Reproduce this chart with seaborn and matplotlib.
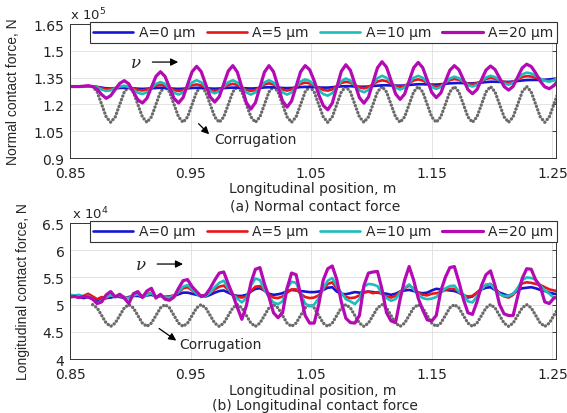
import numpy as np
import pandas as pd
import seaborn as sns
from matplotlib import pyplot as plt
from matplotlib.lines import Line2D

sns.set_theme(style="white")
plt.rcParams["font.family"] = ["DejaVu Sans"]
plt.rcParams["mathtext.fontset"] = "dejavusans"

# sample positions along the rail (m), 8 samples per corrugation wavelength
position_m = np.round(0.85 + 0.00375 * np.arange(109), 5)

cases = ["A=0 μm", "A=5 μm", "A=10 μm", "A=20 μm"]
case_colors = ["#1414d2", "#e8161b", "#1fbcbc", "#b40ab4"]

x_ticks = [0.85, 0.95, 1.05, 1.15, 1.25]
x_tick_labels = ["0.85", "0.95", "1.05", "1.15", "1.25"]

# ---- (a) normal contact force, x 10^5 N ----
normal_ticks = [0.9, 1.05, 1.2, 1.35, 1.5, 1.65]
normal_tick_labels = ["0.9", "1.05", "1.2", "1.35", "1.5", "1.65"]

normal_a0 = [
    1.300, 1.300, 1.300, 1.300, 1.300, 1.300, 1.298, 1.294, 1.290, 1.289,
    1.290, 1.292, 1.293, 1.292, 1.290, 1.288, 1.287, 1.288, 1.290, 1.292,
    1.293, 1.292, 1.290, 1.288, 1.287, 1.288, 1.290, 1.292, 1.293, 1.293,
    1.291, 1.289, 1.288, 1.289, 1.291, 1.293, 1.294, 1.294, 1.292, 1.290,
    1.289, 1.290, 1.292, 1.295, 1.296, 1.296, 1.294, 1.292, 1.291, 1.292,
    1.294, 1.297, 1.298, 1.298, 1.297, 1.295, 1.294, 1.294, 1.296, 1.299,
    1.301, 1.302, 1.302, 1.300, 1.299, 1.299, 1.300, 1.303, 1.305, 1.307,
    1.307, 1.306, 1.305, 1.305, 1.306, 1.309, 1.311, 1.313, 1.313, 1.312,
    1.311, 1.311, 1.313, 1.315, 1.318, 1.319, 1.320, 1.319, 1.318, 1.318,
    1.320, 1.322, 1.325, 1.327, 1.327, 1.326, 1.326, 1.326, 1.328, 1.331,
    1.334, 1.336, 1.337, 1.337, 1.337, 1.338, 1.340, 1.343, 1.346,
]
normal_a5 = [
    1.300, 1.300, 1.300, 1.300, 1.300, 1.300, 1.297, 1.290, 1.285, 1.287,
    1.292, 1.298, 1.300, 1.297, 1.289, 1.281, 1.278, 1.283, 1.294, 1.305,
    1.310, 1.305, 1.292, 1.280, 1.275, 1.280, 1.293, 1.307, 1.312, 1.307,
    1.293, 1.280, 1.275, 1.281, 1.295, 1.309, 1.315, 1.309, 1.295, 1.281,
    1.275, 1.281, 1.296, 1.312, 1.318, 1.312, 1.297, 1.283, 1.277, 1.284,
    1.300, 1.315, 1.322, 1.318, 1.306, 1.293, 1.281, 1.277, 1.284, 1.302,
    1.320, 1.327, 1.322, 1.308, 1.295, 1.290, 1.297, 1.312, 1.328, 1.335,
    1.330, 1.316, 1.303, 1.298, 1.304, 1.319, 1.334, 1.340, 1.334, 1.320,
    1.306, 1.300, 1.306, 1.321, 1.336, 1.342, 1.338, 1.327, 1.317, 1.313,
    1.318, 1.330, 1.343, 1.348, 1.344, 1.335, 1.326, 1.322, 1.327, 1.340,
    1.353, 1.358, 1.356, 1.349, 1.341, 1.334, 1.332, 1.336, 1.343,
]
normal_a10 = [
    1.300, 1.300, 1.300, 1.300, 1.300, 1.300, 1.295, 1.283, 1.275, 1.279,
    1.290, 1.301, 1.305, 1.298, 1.282, 1.265, 1.258, 1.268, 1.292, 1.315,
    1.325, 1.315, 1.290, 1.265, 1.255, 1.267, 1.295, 1.323, 1.335, 1.324,
    1.299, 1.273, 1.262, 1.273, 1.299, 1.324, 1.335, 1.323, 1.295, 1.267,
    1.255, 1.267, 1.295, 1.323, 1.335, 1.323, 1.295, 1.267, 1.255, 1.267,
    1.298, 1.328, 1.340, 1.331, 1.309, 1.280, 1.258, 1.249, 1.263, 1.297,
    1.331, 1.345, 1.334, 1.307, 1.279, 1.268, 1.281, 1.314, 1.347, 1.360,
    1.349, 1.322, 1.294, 1.283, 1.294, 1.322, 1.349, 1.360, 1.349, 1.324,
    1.298, 1.287, 1.297, 1.321, 1.345, 1.355, 1.347, 1.328, 1.308, 1.300,
    1.309, 1.330, 1.351, 1.360, 1.353, 1.335, 1.317, 1.310, 1.320, 1.344,
    1.368, 1.378, 1.373, 1.360, 1.345, 1.332, 1.327, 1.335, 1.350,
]
normal_a20 = [
    1.300, 1.300, 1.300, 1.302, 1.305, 1.300, 1.285, 1.255, 1.234, 1.249,
    1.284, 1.318, 1.333, 1.315, 1.270, 1.226, 1.208, 1.234, 1.296, 1.357,
    1.383, 1.357, 1.296, 1.234, 1.208, 1.238, 1.311, 1.383, 1.413, 1.384,
    1.313, 1.242, 1.213, 1.243, 1.315, 1.387, 1.417, 1.381, 1.296, 1.210,
    1.174, 1.210, 1.296, 1.381, 1.417, 1.383, 1.301, 1.219, 1.185, 1.219,
    1.301, 1.383, 1.417, 1.394, 1.332, 1.255, 1.194, 1.170, 1.207, 1.296,
    1.385, 1.422, 1.391, 1.315, 1.238, 1.207, 1.241, 1.323, 1.405, 1.439,
    1.408, 1.334, 1.259, 1.228, 1.258, 1.332, 1.405, 1.435, 1.406, 1.337,
    1.267, 1.238, 1.264, 1.328, 1.391, 1.417, 1.394, 1.339, 1.283, 1.260,
    1.283, 1.338, 1.392, 1.415, 1.395, 1.348, 1.300, 1.280, 1.301, 1.353,
    1.404, 1.425, 1.412, 1.375, 1.330, 1.298, 1.288, 1.305, 1.335,
]
nan = np.nan
normal_corrugation = [
    nan, nan, nan, nan, nan,
    1.30, 1.27, 1.20, 1.13, 1.10, 1.13, 1.20, 1.27,
    1.30, 1.27, 1.20, 1.13, 1.10, 1.13, 1.20, 1.27,
    1.30, 1.27, 1.20, 1.13, 1.10, 1.13, 1.20, 1.27,
    1.30, 1.27, 1.20, 1.13, 1.10, 1.13, 1.20, 1.27,
    1.30, 1.27, 1.20, 1.13, 1.10, 1.13, 1.20, 1.27,
    1.30, 1.27, 1.20, 1.13, 1.10, 1.13, 1.20, 1.27,
    1.30, 1.27, 1.20, 1.13, 1.10, 1.13, 1.20, 1.27,
    1.30, 1.27, 1.20, 1.13, 1.10, 1.13, 1.20, 1.27,
    1.30, 1.27, 1.20, 1.13, 1.10, 1.13, 1.20, 1.27,
    1.30, 1.27, 1.20, 1.13, 1.10, 1.13, 1.20, 1.27,
    1.30, 1.27, 1.20, 1.13, 1.10, 1.13, 1.20, 1.27,
    1.30, 1.27, 1.20, 1.13, 1.10, 1.13, 1.20, 1.27,
    1.30, 1.27, 1.20, 1.13, 1.10, 1.13, 1.20, 1.27,
]

# ---- (b) longitudinal contact force, x 10^4 N ----
long_ticks = [4, 4.5, 5, 5.5, 6, 6.5]
long_tick_labels = ["4", "4.5", "5", "5.5", "6", "6.5"]

long_a0 = [
    5.16, 5.16, 5.14, 5.12, 5.14, 5.12, 5.06, 5.10, 5.12, 5.13,
    5.15, 5.14, 5.12, 5.14, 5.16, 5.16, 5.14, 5.17, 5.18, 5.15,
    5.16, 5.14, 5.15, 5.16, 5.19, 5.22, 5.22, 5.20, 5.18, 5.16,
    5.15, 5.18, 5.22, 5.25, 5.26, 5.22, 5.18, 5.16, 5.16, 5.18,
    5.24, 5.29, 5.30, 5.26, 5.20, 5.18, 5.19, 5.21, 5.25, 5.27,
    5.26, 5.25, 5.24, 5.23, 5.23, 5.24, 5.27, 5.31, 5.32, 5.24,
    5.20, 5.19, 5.21, 5.23, 5.22, 5.23, 5.24, 5.23, 5.22, 5.21,
    5.20, 5.18, 5.20, 5.24, 5.26, 5.27, 5.25, 5.22, 5.21, 5.22,
    5.26, 5.29, 5.28, 5.27, 5.26, 5.25, 5.22, 5.17, 5.13, 5.15,
    5.22, 5.28, 5.31, 5.32, 5.27, 5.22, 5.19, 5.16, 5.20, 5.26,
    5.30, 5.31, 5.32, 5.30, 5.27, 5.25, 5.22, 5.20, 5.19,
]
long_a5 = [
    5.14, 5.15, 5.13, 5.16, 5.20, 5.15, 5.10, 5.14, 5.12, 5.17,
    5.15, 5.18, 5.14, 5.12, 5.16, 5.20, 5.15, 5.19, 5.22, 5.15,
    5.16, 5.14, 5.15, 5.17, 5.22, 5.30, 5.32, 5.26, 5.20, 5.16,
    5.17, 5.22, 5.28, 5.33, 5.35, 5.27, 5.18, 5.14, 5.13, 5.15,
    5.25, 5.33, 5.34, 5.26, 5.18, 5.13, 5.12, 5.15, 5.22, 5.28,
    5.28, 5.20, 5.14, 5.12, 5.13, 5.17, 5.28, 5.38, 5.41, 5.30,
    5.20, 5.14, 5.12, 5.13, 5.17, 5.22, 5.24, 5.21, 5.23, 5.20,
    5.15, 5.13, 5.16, 5.24, 5.30, 5.35, 5.30, 5.22, 5.18, 5.17,
    5.20, 5.21, 5.23, 5.27, 5.29, 5.29, 5.23, 5.17, 5.15, 5.16,
    5.22, 5.30, 5.36, 5.38, 5.30, 5.20, 5.15, 5.13, 5.18, 5.30,
    5.39, 5.41, 5.40, 5.38, 5.36, 5.32, 5.28, 5.26, 5.25,
]
long_a10 = [
    5.18, 5.17, 5.18, 5.15, 5.16, 5.10, 5.02, 5.08, 5.14, 5.17,
    5.15, 5.16, 5.13, 5.12, 5.17, 5.19, 5.14, 5.18, 5.21, 5.14,
    5.17, 5.13, 5.13, 5.16, 5.24, 5.33, 5.36, 5.28, 5.20, 5.14,
    5.16, 5.22, 5.32, 5.40, 5.44, 5.30, 5.18, 5.11, 5.04, 5.12,
    5.35, 5.48, 5.45, 5.28, 5.14, 5.04, 5.01, 5.06, 5.30, 5.42,
    5.40, 5.20, 5.02, 4.97, 5.00, 5.12, 5.30, 5.44, 5.49, 5.34,
    5.22, 5.10, 5.06, 5.01, 5.10, 5.33, 5.38, 5.37, 5.34, 5.20,
    5.12, 5.07, 5.10, 5.22, 5.31, 5.37, 5.28, 5.19, 5.12, 5.10,
    5.11, 5.14, 5.22, 5.30, 5.34, 5.35, 5.24, 5.19, 5.06, 5.04,
    5.15, 5.28, 5.37, 5.38, 5.28, 5.19, 5.16, 5.16, 5.20, 5.30,
    5.45, 5.50, 5.49, 5.46, 5.35, 5.26, 5.20, 5.13, 5.10,
]
long_a20 = [
    5.14, 5.15, 5.13, 5.15, 5.14, 5.10, 5.02, 5.05, 5.18, 5.24,
    5.14, 5.19, 5.12, 5.02, 5.20, 5.24, 5.13, 5.25, 5.30, 5.12,
    5.19, 5.10, 5.08, 5.14, 5.30, 5.44, 5.46, 5.33, 5.24, 5.15,
    5.18, 5.30, 5.45, 5.58, 5.60, 5.38, 5.18, 4.95, 4.73, 4.98,
    5.40, 5.65, 5.68, 5.38, 5.14, 4.85, 4.76, 4.85, 5.30, 5.58,
    5.55, 5.18, 4.80, 4.66, 4.66, 5.00, 5.45, 5.66, 5.71, 5.46,
    5.05, 4.75, 4.67, 4.66, 4.80, 5.35, 5.58, 5.60, 5.61, 5.28,
    4.85, 4.70, 4.67, 5.10, 5.45, 5.70, 5.45, 5.12, 4.90, 4.72,
    4.70, 4.80, 5.25, 5.50, 5.68, 5.70, 5.42, 5.10, 4.85, 4.82,
    5.05, 5.35, 5.55, 5.62, 5.35, 5.00, 4.83, 4.80, 4.80, 5.15,
    5.48, 5.66, 5.65, 5.45, 5.33, 5.05, 5.02, 5.12, 5.15,
]
long_corrugation = [
    nan, nan, nan, nan, nan,
    5.00, 4.94, 4.80, 4.66, 4.60, 4.66, 4.80, 4.94,
    5.00, 4.94, 4.80, 4.66, 4.60, 4.66, 4.80, 4.94,
    5.00, 4.94, 4.80, 4.66, 4.60, 4.66, 4.80, 4.94,
    5.00, 4.94, 4.80, 4.66, 4.60, 4.66, 4.80, 4.94,
    5.00, 4.94, 4.80, 4.66, 4.60, 4.66, 4.80, 4.94,
    5.00, 4.94, 4.80, 4.66, 4.60, 4.66, 4.80, 4.94,
    5.00, 4.94, 4.80, 4.66, 4.60, 4.66, 4.80, 4.94,
    5.00, 4.94, 4.80, 4.66, 4.60, 4.66, 4.80, 4.94,
    5.00, 4.94, 4.80, 4.66, 4.60, 4.66, 4.80, 4.94,
    5.00, 4.94, 4.80, 4.66, 4.60, 4.66, 4.80, 4.94,
    5.00, 4.94, 4.80, 4.66, 4.60, 4.66, 4.80, 4.94,
    5.00, 4.94, 4.80, 4.66, 4.60, 4.66, 4.80, 4.94,
    5.00, 4.94, 4.80, 4.66, 4.60, 4.66, 4.80, 4.94,
]


def to_long(series_list):
    frames = []
    for name, vals in zip(cases, series_list):
        frames.append(pd.DataFrame({"position": position_m, "force": vals, "case": name}))
    return pd.concat(frames, ignore_index=True)


def draw_panel(ax, series_list, corrugation, yticks, ylabels, ylim):
    df = to_long(series_list)
    sns.lineplot(x=position_m, y=corrugation, ax=ax, color="#6a6a6a",
                 linewidth=2.4, legend=False)
    corr_line = ax.lines[-1]
    corr_line.set_linestyle((0, (0.05, 1.05)))
    corr_line.set_dash_capstyle("round")
    for name, color in zip(cases, case_colors):
        sub = df[df["case"] == name]
        lw = 2.3 if name == "A=20 μm" else 1.9
        sns.lineplot(data=sub, x="position", y="force", ax=ax, color=color,
                     linewidth=lw, estimator=None, legend=False)
        ax.lines[-1].set_solid_joinstyle("round")
    ax.set_xlim(0.85, 1.253)
    ax.set_ylim(*ylim)
    ax.set_xticks(x_ticks)
    ax.set_xticklabels(x_tick_labels)
    ax.set_yticks(yticks)
    ax.set_yticklabels(ylabels)
    ax.grid(True, color="#e3e3e3", linewidth=0.7)
    ax.tick_params(direction="in", length=3, width=0.6, labelsize=10,
                   top=True, right=True, colors="#222222")
    ax.tick_params(axis="x", pad=6)
    ax.tick_params(axis="y", pad=4)
    for sp in ax.spines.values():
        sp.set_color("#333333")
        sp.set_linewidth(0.7)
    handles = [Line2D([], [], color=c, linewidth=1.9 if c != case_colors[-1] else 2.3)
               for c in case_colors]
    ax.legend(handles, cases, loc="upper right", bbox_to_anchor=(1.002, 1.015),
              ncol=4, fontsize=10, frameon=True, fancybox=False, framealpha=1,
              edgecolor="#333333", handlelength=2.9, handletextpad=0.4,
              columnspacing=0.8, borderpad=0.25, borderaxespad=0)
    ax.get_legend().get_frame().set_linewidth(0.8)


fig = plt.figure(figsize=(5.67, 4.14), dpi=100)
ax1 = fig.add_axes([0.1235, 0.6159, 0.857, 0.3237])
ax2 = fig.add_axes([0.1235, 0.1304, 0.857, 0.3285])

draw_panel(ax1, [normal_a0, normal_a5, normal_a10, normal_a20], normal_corrugation,
           normal_ticks, normal_tick_labels, (0.9, 1.65))
draw_panel(ax2, [long_a0, long_a5, long_a10, long_a20], long_corrugation,
           long_ticks, long_tick_labels, (4, 6.5))

ax1.set_ylabel("Normal contact force, N", fontsize=10, family=["Liberation Sans", "DejaVu Sans"])
ax2.set_ylabel("Longitudinal contact force, N", fontsize=10, family=["Liberation Sans", "DejaVu Sans"])
ax1.yaxis.set_label_coords(-0.103, 0.5)
ax2.yaxis.set_label_coords(-0.083, 0.5)

ax1.set_xlabel("Longitudinal position, m", fontsize=10, va="top")
ax2.set_xlabel("Longitudinal position, m", fontsize=10, va="top")
ax1.xaxis.set_label_coords(0.5, -0.168)
ax2.xaxis.set_label_coords(0.5, -0.178)

fig.text(315 / 567, 1 - 207 / 414, "(a) Normal contact force", ha="center", va="center", fontsize=10)
fig.text(315 / 567, 1 - 406 / 414, "(b) Longitudinal contact force", ha="center", va="center", fontsize=10)

fig.text(70 / 567, 1 - 20 / 414, "x 10$^5$", ha="left", va="baseline", fontsize=9.5)
fig.text(72 / 567, 1 - 219 / 414, "x 10$^4$", ha="left", va="baseline", fontsize=9.5)

arrow_kw = dict(arrowstyle="-|>", color="black", lw=0.9, mutation_scale=11)

# travel direction arrows
for ax, xv, yv in [(ax1, 0.905, 1.437), (ax2, 0.909, 5.746)]:
    ax.text(xv, yv, "ν", fontsize=12, style="italic", family="DejaVu Serif",
            ha="center", va="center")
    ax.annotate("", xy=(xv + 0.037, yv), xytext=(xv + 0.011, yv), arrowprops=arrow_kw)

# corrugation labels
ax1.annotate("", xy=(0.967, 1.022), xytext=(0.955, 1.103), arrowprops=arrow_kw)
ax1.text(0.970, 1.006, "Corrugation", fontsize=10, ha="left", va="center")
ax2.annotate("", xy=(0.940, 4.31), xytext=(0.922, 4.59), arrowprops=arrow_kw)
ax2.text(0.941, 4.276, "Corrugation", fontsize=10, ha="left", va="center")

fig.savefig("out.png", dpi=100)
